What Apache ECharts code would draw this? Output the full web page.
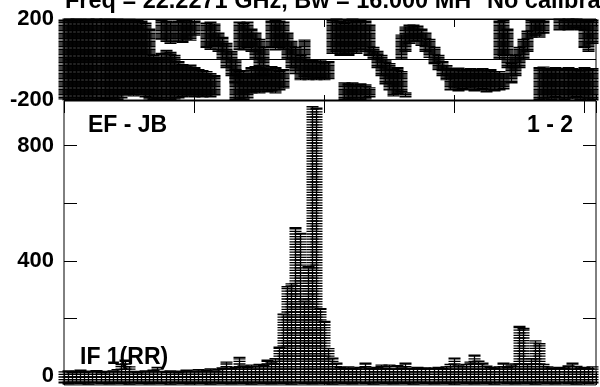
<!DOCTYPE html>
<html><head><meta charset="utf-8">
<style>html,body{margin:0;padding:0;background:#fff}#c{width:600px;height:387px}</style>
<script src="https://cdn.jsdelivr.net/npm/echarts@6/dist/echarts.min.js"></script>
</head><body><div id="c"></div>
<script>
// channel numbers 0..130
const channels = [0,1,2,3,4,5,6,7,8,9,10,11,12,13,14,15,16,17,18,19,20,21,22,23,24,25,26,27,28,29,30,31,32,33,34,35,36,37,38,39,40,41,42,43,44,45,46,47,48,49,50,51,52,53,54,55,56,57,58,59,60,61,62,63,64,65,66,67,68,69,70,71,72,73,74,75,76,77,78,79,80,81,82,83,84,85,86,87,88,89,90,91,92,93,94,95,96,97,98,99,100,101,102,103,104,105,106,107,108,109,110,111,112,113,114,115,116,117,118,119,120,121,122,123,124,125,126,127,128,129,130];

// amplitude spread per channel (upper / lower ends)
const ampHigh = [14,18,12,16,20,13,17,15,19,12,16,14,18,22,40,55,32,16,12,15,18,14,20,30,16,13,18,15,12,17,20,15,18,22,16,20,25,18,22,28,48,26,30,65,35,30,38,32,40,36,55,48,60,100,215,310,320,515,495,260,380,935,930,234,190,95,62,45,30,26,32,28,25,30,45,28,26,30,38,27,38,25,36,28,45,27,25,30,26,28,24,27,30,26,32,40,62,38,32,40,48,72,52,45,34,30,28,32,45,30,38,42,172,165,40,60,122,112,40,32,28,26,30,28,35,45,33,28,30,26,32];
const ampLow = [-24,-27,-25,-22,-26,-24,-28,-25,-23,-26,-24,-27,-25,-22,-26,-24,-28,-25,-23,-26,-24,-27,-25,-22,-26,-24,-28,-25,-23,-26,-24,-27,-25,-22,-26,-24,-28,-25,-23,-26,-24,-27,-25,-22,-26,-24,-28,-25,-23,-26,-24,-27,-25,-22,-26,-24,-28,-25,-23,-26,-24,-27,-25,-22,-26,-24,-28,-25,-23,-26,-24,-27,-25,-22,-26,-24,-28,-25,-23,-26,-24,-27,-25,-22,-26,-24,-28,-25,-23,-26,-24,-27,-25,-22,-26,-24,-28,-25,-23,-26,-24,-27,-25,-22,-26,-24,-28,-25,-23,-26,-24,-27,-25,-22,-26,-24,-28,-25,-23,-26,-24,-27,-25,-22,-26,-24,-28,-25,-23,-26,-24];

// phase spread per channel, main branch
const phaseALow = [-195,-200,-190,-200,-195,-200,-190,-200,-196,-200,-192,-200,-195,-198,-190,-175,-170,-180,-165,-175,-185,-195,-200,-195,-200,-190,-200,-195,-190,-185,-180,-175,-185,-180,-185,-180,-185,-175,40,0,-40,-80,-200,-195,-200,-190,-165,-160,-165,-150,-160,-155,-165,-150,-140,0,-40,-70,-100,-85,-100,-95,-100,-90,-100,-95,30,40,20,-200,-195,-200,-190,-200,-195,-185,0,-40,-80,-120,-150,-180,-170,0,40,80,95,90,70,40,10,-20,-50,-80,-100,-150,-140,-155,-145,-150,-140,-155,-150,-145,-160,-150,-155,0,20,-40,-115,-80,-40,0,40,110,120,-200,-195,-190,-200,-185,-195,-200,-190,-195,-185,-200,-190,-195,-200];
const phaseAHigh = [195,200,195,200,198,195,200,196,200,194,200,198,196,200,195,195,198,192,196,190,180,150,20,10,30,45,35,20,-10,-25,-30,-28,-40,-50,-55,-60,-70,-80,130,110,80,40,-50,-60,-55,-70,-40,-35,-40,-45,-50,-35,-40,-60,-50,130,90,60,20,96,-2,-5,-10,0,-15,-10,195,200,190,-115,-120,-115,-130,-120,-125,-140,60,40,20,0,-20,-50,-40,120,160,170,170,165,150,130,100,60,20,-10,-30,-45,-50,-42,-55,-50,-45,-55,-50,-45,-55,-50,-60,190,195,150,-20,20,60,100,140,195,190,-40,-37,-45,-50,-40,-45,-50,-40,-45,-50,-55,-40,-50,-45];
// phase spread per channel, second branch (null = none)
const phaseBLow = [null,null,null,null,null,null,null,null,null,null,null,null,null,null,null,null,null,null,null,null,null,null,null,null,100,90,80,null,90,85,100,95,120,null,null,60,50,70,null,null,null,null,-115,50,47,60,40,0,-40,-80,null,60,47,60,50,null,null,null,null,null,null,null,null,null,null,null,null,null,null,30,20,40,30,50,40,20,null,null,null,null,null,null,null,-160,-185,null,null,null,null,null,null,null,null,null,null,null,null,null,null,null,null,null,null,null,null,null,null,-150,-145,null,null,null,null,null,null,null,null,110,130,null,null,null,146,150,146,150,155,146,60,40,80];
const phaseBHigh = [null,null,null,null,null,null,null,null,null,null,null,null,null,null,null,null,null,null,null,null,null,null,null,null,195,190,185,null,190,195,195,185,190,null,null,180,185,175,null,null,null,null,0,185,180,185,150,130,100,60,null,190,195,190,185,null,null,null,null,null,null,null,null,null,null,null,null,null,null,180,195,200,190,195,190,170,null,null,null,null,null,null,null,-60,-165,null,null,null,null,null,null,null,null,null,null,null,null,null,null,null,null,null,null,null,null,null,null,-60,-70,null,null,null,null,null,null,null,null,195,190,null,null,null,200,195,200,198,200,195,195,190,195];

const xTickStep = 32;
const phaseLabels = ['-200', '200'];
const ampLabelValues = [0, 400, 800];
const ampTickValues = [0, 200, 400, 600, 800];

const FONT = '"Liberation Sans", Arial, sans-serif';

function spreadRender(step, half, width) {
  return function (params, api) {
    const ch = api.value(0);
    const top = api.coord([ch, api.value(2)]);
    const bot = api.coord([ch, api.value(1)]);
    const x = Math.round(top[0]) + 0.5;
    const y0 = top[1], y1 = bot[1];
    let d = 'M' + x + ' ' + y0 + 'L' + x + ' ' + y1;
    d += 'M' + (x - half) + ' ' + y0 + 'L' + (x + half) + ' ' + y0;
    for (let y = Math.ceil(y0 / step) * step; y < y1; y += step) {
      d += 'M' + (x - half) + ' ' + y + 'L' + (x + half) + ' ' + y;
    }
    d += 'M' + (x - half) + ' ' + y1 + 'L' + (x + half) + ' ' + y1;
    return { type: 'path', shape: { pathData: d }, style: { stroke: '#000', lineWidth: width, fill: null } };
  };
}

const ampData = channels.map(i => [i, ampLow[i], ampHigh[i]]);
const phaseAData = channels.map(i => [i, phaseALow[i], phaseAHigh[i]]);
const phaseBData = channels.filter(i => phaseBHigh[i] !== null).map(i => [i, phaseBLow[i], phaseBHigh[i]]);

const labelStyle = { color: '#000', fontFamily: FONT, fontWeight: 'bold', fontSize: 22 };
const noLine = () => ({ show: false, onZero: false });

const chart = echarts.init(document.getElementById('c'), null, { renderer: 'canvas' });
chart.setOption({
  animation: false,
  backgroundColor: '#fff',
  grid: [
    { left: 64, right: 4, top: 19, height: 81, show: true, borderColor: '#000', borderWidth: 1, backgroundColor: 'transparent' },
    { left: 64, right: 4, top: 101, bottom: 0, show: true, borderColor: '#000', borderWidth: 1, backgroundColor: 'transparent' }
  ],
  xAxis: [
    { gridIndex: 0, type: 'value', min: 0, max: 131, interval: xTickStep, position: 'top', axisLine: noLine(), axisTick: { inside: true, length: 8, lineStyle: { color: '#000' } }, axisLabel: { show: false }, splitLine: { show: false } },
    { gridIndex: 0, type: 'value', min: 0, max: 131, interval: xTickStep, position: 'bottom', axisLine: noLine(), axisTick: { inside: true, length: 5, lineStyle: { color: '#000' } }, axisLabel: { show: false }, splitLine: { show: false } },
    { gridIndex: 1, type: 'value', min: 0, max: 131, interval: xTickStep, position: 'top', axisLine: noLine(), axisTick: { inside: true, length: 12, lineStyle: { color: '#000' } }, axisLabel: { show: false }, splitLine: { show: false } },
    { gridIndex: 1, type: 'value', min: 0, max: 131, interval: xTickStep, position: 'bottom', axisLine: noLine(), axisTick: { inside: true, length: 13, lineStyle: { color: '#000' } }, axisLabel: { show: false }, splitLine: { show: false } }
  ],
  yAxis: [
    { gridIndex: 0, type: 'value', min: -200, max: 200, interval: 400, position: 'left', axisLine: noLine(), axisTick: { show: false }, splitLine: { show: false },
      axisLabel: Object.assign({ margin: 10, formatter: v => phaseLabels[v > 0 ? 1 : 0] }, labelStyle) },
    { gridIndex: 0, type: 'value', min: -200, max: 200, interval: 200, position: 'right', axisLine: noLine(), axisTick: { show: false }, axisLabel: { show: false },
      splitLine: { show: true, lineStyle: { color: '#000', width: 1 } } },
    { gridIndex: 1, type: 'value', min: -31, max: 955, position: 'left', axisLine: noLine(), splitLine: { show: false },
      axisTick: { show: true, inside: true, length: 13, customValues: ampTickValues, lineStyle: { color: '#000' } },
      axisLabel: Object.assign({ margin: 10, customValues: ampLabelValues }, labelStyle) },
    { gridIndex: 1, type: 'value', min: -31, max: 955, position: 'right', axisLine: noLine(), splitLine: { show: false },
      axisTick: { show: true, inside: true, length: 13, customValues: ampTickValues, lineStyle: { color: '#000' } },
      axisLabel: { show: false } }
  ],
  series: [
    { type: 'custom', xAxisIndex: 0, yAxisIndex: 0, clip: false, renderItem: spreadRender(1.6, 6, 1.2), data: phaseAData, encode: { x: 0, y: [1, 2] } },
    { type: 'custom', xAxisIndex: 0, yAxisIndex: 0, clip: false, renderItem: spreadRender(1.6, 6, 1.2), data: phaseBData, encode: { x: 0, y: [1, 2] } },
    { type: 'custom', xAxisIndex: 3, yAxisIndex: 2, clip: false, renderItem: spreadRender(2.6, 6, 1.3), data: ampData, encode: { x: 0, y: [1, 2] } }
  ],
  graphic: [
    { type: 'text', x: 65, y: 2, z: 100, style: { text: 'Freq = 22.2271 GHz, Bw = 16.000 MH', font: 'bold 23.5px ' + FONT, fill: '#000', verticalAlign: 'middle' } },
    { type: 'text', x: 487, y: 2, z: 100, style: { text: 'No calibra', font: 'bold 23.5px ' + FONT, fill: '#000', verticalAlign: 'middle' } },
    { type: 'text', x: 88, y: 126, z: 100, style: { text: 'EF - JB', font: 'bold 23px ' + FONT, fill: '#000', verticalAlign: 'middle' } },
    { type: 'text', x: 527, y: 126, z: 100, style: { text: '1 - 2', font: 'bold 23px ' + FONT, fill: '#000', verticalAlign: 'middle' } },
    { type: 'text', x: 80, y: 358, z: 100, style: { text: 'IF 1(RR)', font: 'bold 23px ' + FONT, fill: '#000', verticalAlign: 'middle' } }
  ]
});
</script></body></html>
